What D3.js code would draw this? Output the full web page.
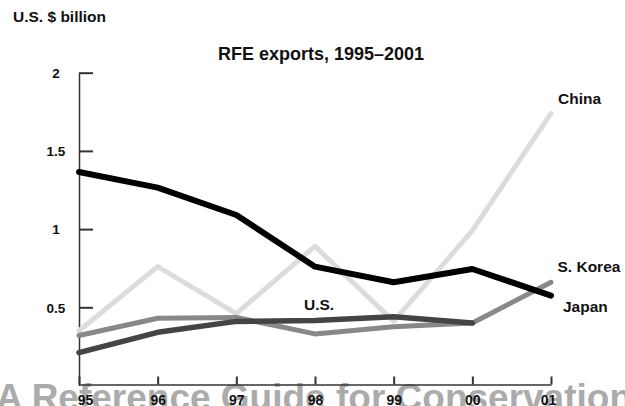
<!DOCTYPE html>
<html>
<head>
<meta charset="utf-8">
<script src="https://cdn.jsdelivr.net/npm/d3@7"></script>
<style>
  html, body { margin: 0; padding: 0; background: #fff; }
  svg { display: block; font-family: "Liberation Sans", Arial, Helvetica, sans-serif; font-weight: bold; }
</style>
</head>
<body>
<svg id="chart" width="625" height="406"></svg>
<script>
const years = ["95", "96", "97", "98", "99", "00", "01"];
const yTicks = [0.5, 1, 1.5, 2];
const china   = [0.35, 0.76, 0.46, 0.89, 0.41, 0.99, 1.74];
const korea   = [0.32, 0.43, 0.435, 0.33, 0.375, 0.40, 0.66];
const us      = [0.21, 0.34, 0.41, 0.415, 0.44, 0.40];
const japan   = [1.365, 1.265, 1.09, 0.76, 0.66, 0.745, 0.575];
const seriesNames = ["China", "S. Korea", "U.S.", "Japan"];
const titleText = "RFE exports, 1995\u20132001";
const unitText = "U.S. $ billion";
const watermark = "A Reference Guide for Conservation";

const svg = d3.select("#chart");
const x = d3.scalePoint().domain(years).range([79, 551]);
const y = d3.scaleLinear().domain([0, 2]).range([385.5, 72.7]);

// watermark
svg.append("text").attr("x", -4).attr("y", 409.5)
  .attr("font-size", 37).attr("fill", "#ababab").text(watermark);

// title & unit
svg.append("text").attr("x", 13).attr("y", 22).attr("font-size", 15.5)
  .attr("fill", "#111").text(unitText);
svg.append("text").attr("x", 218).attr("y", 59.5).attr("font-size", 18)
  .attr("fill", "#111").text(titleText);

// axes
const yAxis = d3.axisLeft(y).tickValues(yTicks).tickSizeInner(-14).tickSizeOuter(0)
  .tickFormat(d3.format("~g"));
const gy = svg.append("g").attr("transform", "translate(79,0)").call(yAxis);
gy.select(".domain").attr("stroke", "#333").attr("stroke-width", 1.5);
gy.selectAll(".tick line").attr("stroke", "#333").attr("stroke-width", 2);
gy.selectAll(".tick text").attr("x", -23).attr("text-anchor", "middle")
  .attr("font-size", 13.5).attr("font-family", null).attr("fill", "#111").attr("dy", "0.36em");

const xAxis = d3.axisBottom(x).tickSizeInner(-8).tickSizeOuter(0);
const gx = svg.append("g").attr("transform", "translate(0,384.5)").call(xAxis);
gx.select(".domain").attr("stroke", "#333").attr("stroke-width", 1.5);
gx.selectAll(".tick line").attr("stroke", "#333").attr("stroke-width", 2);
gx.selectAll(".tick text").attr("y", 20.5).attr("dy", 0)
  .attr("font-size", 14).attr("font-family", null).attr("fill", "#111")
  .attr("dx", (d, i) => i === 0 ? 6 : (i === years.length - 1 ? -3 : 0));

// lines
const line = d3.line().x((d, i) => x(years[i])).y(d => y(d));
const series = [
  { name: "China", values: china, color: "#dcdcdc", width: 5 },
  { name: "S. Korea", values: korea, color: "#888888", width: 5 },
  { name: "U.S.", values: us, color: "#444444", width: 5.5 },
  { name: "Japan", values: japan, color: "#000000", width: 6 }
];
svg.append("g").selectAll("path").data(series).join("path")
  .attr("d", d => line(d.values))
  .attr("fill", "none")
  .attr("stroke", d => d.color)
  .attr("stroke-width", d => d.width)
  .attr("stroke-linejoin", "round")
  .attr("stroke-linecap", "round");

// labels
const labelPos = {
  "China": [558, 104],
  "S. Korea": [557.5, 271.5],
  "U.S.": [304, 310],
  "Japan": [563, 312]
};
svg.append("g").selectAll("text").data(seriesNames).join("text")
  .attr("x", d => labelPos[d][0]).attr("y", d => labelPos[d][1])
  .attr("font-size", 15.5).attr("fill", "#111").text(d => d);
</script>
</body>
</html>
